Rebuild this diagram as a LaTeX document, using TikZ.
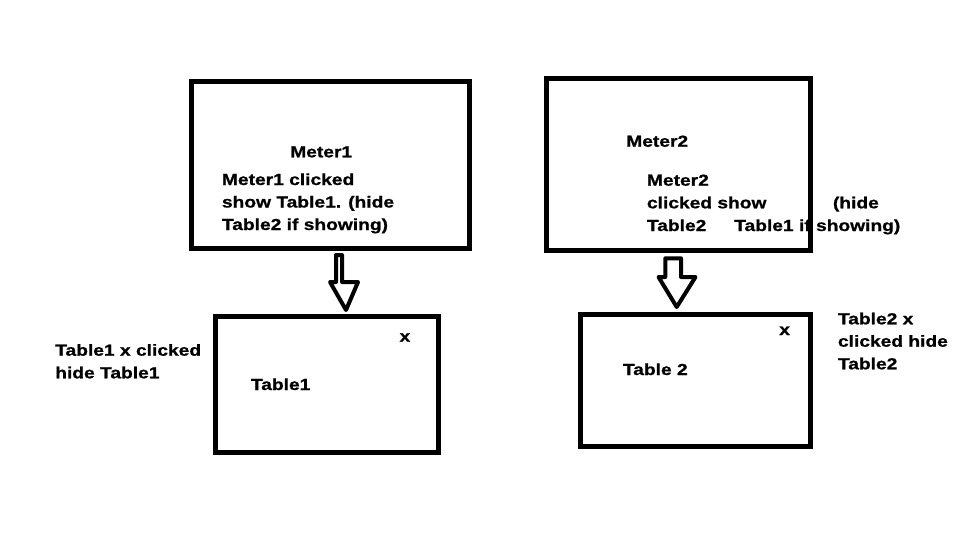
\documentclass[tikz,border=0pt]{standalone}
\usepackage{fontspec}
\newfontfamily\paintfont{Liberation Sans}[FakeStretch=1.2,FakeBold=0.9]
\tikzset{
  box/.style={draw=black, line width=3.75pt, fill=none, inner sep=0pt},
  lbl/.style={anchor=base west, inner sep=0pt, text=black,
    font=\paintfont\bfseries\fontsize{12}{16}\selectfont},
  blockarrow/.style={draw=black, line width=3pt, line join=round, fill=white}
}
\begin{document}
\begin{tikzpicture}[x=0.75pt,y=-0.75pt]
\useasboundingbox[fill=white] (0,0) rectangle (960,540);
% boxes
\node[box, minimum width=208.5pt, minimum height=125.25pt] (m1) at (330.5,165) {};
\node[box, minimum width=198pt, minimum height=129pt] (m2) at (678.5,164.5) {};
\node[box, minimum width=167.25pt, minimum height=102pt] (t1) at (327,384.5) {};
\node[box, minimum width=172.5pt, minimum height=99pt] (t2) at (695.5,380.5) {};
% block arrows
\draw[blockarrow] (336,255) -- (342,255) -- (342,282) -- (358,282) -- (346,310) -- (330,282) -- (336,282) -- cycle;
\draw[blockarrow] (665.3,258.3) -- (681,258.3) -- (681,277) -- (695.5,277) -- (676.7,307) -- (658.5,277) -- (665.3,277) -- cycle;
% Meter1 texts
\node[lbl] (m1title) at (290,157.3) {Meter1};
\node[lbl] (m1l1) at (221.7,185) {Meter1 clicked};
\node[lbl] (m1l2) at (221.7,207.5) {show Table1. (hide};
\node[lbl] (m1l3) at (221.7,230) {Table2 if showing)};
% Meter2 texts
\node[lbl] (m2title) at (626,146.7) {Meter2};
\node[lbl] (m2a1) at (646.7,185.7) {Meter2};
\node[lbl] (m2a2) at (646.7,208.3) {clicked show};
\node[lbl] (m2a3) at (646.7,231) {Table2};
\node[lbl] (m2b1) at (832.7,208.3) {(hide};
\node[lbl] (m2b2) at (734,231) {Table1 if showing)};
% Table1 texts
\node[lbl] (t1x) at (399.3,341.7) {x};
\node[lbl] (t1name) at (250.7,390) {Table1};
\node[lbl] (t1n1) at (55,355.7) {Table1 x clicked};
\node[lbl] (t1n2) at (55,378.3) {hide Table1};
% Table2 texts
\node[lbl] (t2x) at (779,335) {x};
\node[lbl] (t2name) at (622.7,375) {Table 2};
\node[lbl] (t2n1) at (837.7,324.3) {Table2 x};
\node[lbl] (t2n2) at (837.7,346.7) {clicked hide};
\node[lbl] (t2n3) at (837.7,369.3) {Table2};
\end{tikzpicture}
\end{document}
